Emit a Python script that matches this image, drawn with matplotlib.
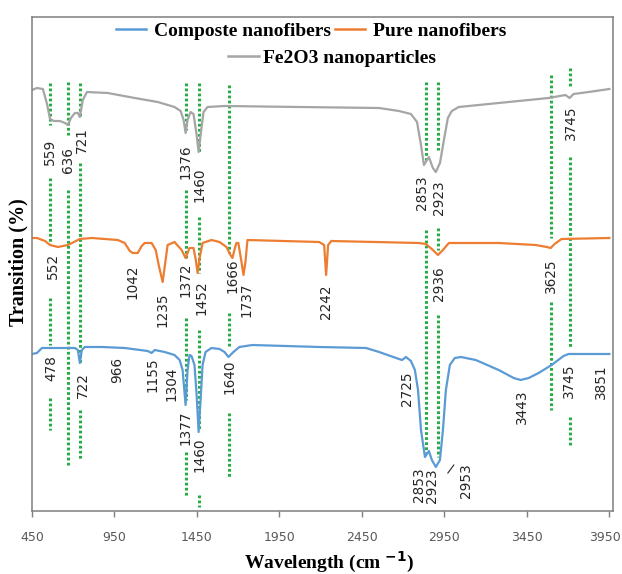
import matplotlib
matplotlib.use("Agg")
import matplotlib.pyplot as plt
from matplotlib.lines import Line2D
from matplotlib.transforms import ScaledTranslation

# ---------------- data (wavenumber, relative transmission, arbitrary offset units) ----------------
fe_wn = [450, 480, 516, 541, 559, 583, 619, 650, 668, 686, 710, 728, 740, 758, 783, 909, 1073, 1212,
         1314, 1351, 1369, 1381, 1393, 1411, 1429, 1448, 1460, 1472, 1490, 1514, 1617, 2070, 2554,
         2675, 2747, 2784, 2808, 2826, 2856, 2880, 2898, 2923, 2947, 2971, 2995, 3037, 3279, 3582,
         3684, 3709, 3733, 3824, 3950]
fe_t = [421, 423, 422, 407, 392, 390, 390, 388, 386, 393, 398, 398, 394, 411, 419, 418, 413, 409,
        404, 400, 391, 378, 391, 399, 397, 376, 359, 376, 399, 404, 405, 404, 403,
        400, 397, 389, 366, 346, 354, 343, 339, 348, 371, 393, 400, 404, 408, 413,
        416, 413, 417, 419, 422]

pure_wn = [450, 480, 529, 559, 607, 668, 740, 813, 970, 1012, 1043, 1061, 1091, 1115, 1133, 1175,
           1200, 1218, 1242, 1260, 1272, 1314, 1357, 1381, 1405, 1429, 1441, 1454, 1466, 1484, 1538,
           1587, 1629, 1653, 1665, 1677, 1689, 1701, 1720, 1732, 1744, 1756, 2191, 2221, 2233, 2245,
           2264, 2796, 2838, 2880, 2911, 2941, 2977, 3279, 3503, 3570, 3594, 3618, 3660, 3950]
pure_t = [273, 273, 270, 266, 264, 266, 272, 273, 271, 268, 260, 258, 258, 265, 268, 268,
          261, 246, 229, 251, 266, 269, 261, 253, 263, 263, 253, 238, 253, 268, 271,
          269, 264, 256, 253, 261, 268, 268, 249, 236, 249, 271, 269, 266, 236, 266,
          270, 268, 267, 261, 256, 261, 268, 268, 266, 264, 263, 267, 272, 273]

comp_wn = [450, 480, 510, 607, 710, 728, 740, 752, 770, 873, 1012, 1151, 1175, 1194, 1254, 1314,
           1345, 1363, 1381, 1393, 1405, 1417, 1435, 1448, 1460, 1472, 1484, 1502, 1538, 1587, 1617,
           1641, 1671, 1707, 1786, 2191, 2475, 2554, 2657, 2693, 2717, 2747, 2771, 2790, 2808, 2832,
           2856, 2874, 2898, 2923, 2941, 2959, 2983, 3013, 3050, 3140, 3279, 3370, 3412, 3461, 3521,
           3600, 3672, 3703, 3745, 3950]
comp_t = [157, 158, 163, 163, 163, 161, 148, 161, 164, 164, 163, 160, 158, 161, 159, 156,
          151, 141, 106, 141, 156, 155, 146, 116, 79, 111, 146, 159, 163, 162, 159,
          154, 159, 164, 166, 164, 163, 159, 153, 151, 154, 150, 141, 121, 81, 54,
          60, 51, 44, 51, 81, 121, 146, 153, 154, 151, 141, 133, 131, 133, 138,
          146, 155, 157, 157, 157]

# peak labels: (text, x position in cm-1, y position)
fe_labels = [("559", 559, 359), ("636", 668, 351), ("721", 752, 371), ("1376", 1381, 349),
             ("1460", 1466, 326), ("2853", 2814, 318), ("2923", 2917, 313), ("3745", 3715, 388)]
pure_labels = [("552", 577, 245), ("1042", 1061, 229), ("1235", 1242, 201), ("1372", 1381, 231),
               ("1452", 1478, 213), ("1666", 1665, 235), ("1737", 1750, 211), ("2242", 2233, 209),
               ("2936", 2917, 227), ("3625", 3594, 235)]
comp_labels = [("478", 565, 143), ("722", 758, 126), ("966", 964, 141), ("1155", 1182, 136),
               ("1304", 1296, 127), ("1377", 1381, 83), ("1460", 1466, 56), ("1640", 1647, 134),
               ("2725", 2723, 122), ("2853", 2798, 26), ("2923", 2876, 25), ("2953", 3080, 30),
               ("3443", 3418, 104), ("3745", 3703, 130), ("3851", 3902, 129)]

# green dotted guide segments: (x cm-1, y from, y to)
guides = [(559, 428, 386), (559, 333, 268), (559, 213, 166), (559, 113, 81),
          (668, 429, 376), (668, 321, 44),
          (740, 428, 394), (740, 348, 148), (740, 101, 51),
          (1381, 428, 381), (1381, 321, 253), (1381, 193, 111), (1381, 59, 14),
          (1460, 428, 359), (1460, 294, 238), (1460, 181, 81), (1460, 16, 4),
          (1647, 426, 258), (1647, 198, 164), (1647, 98, 34),
          (2838, 429, 351), (2838, 281, 58),
          (2911, 429, 361), (2911, 283, 261), (2911, 196, 54),
          (3594, 436, 273), (3594, 209, 101),
          (3709, 443, 424), (3709, 354, 164), (3709, 94, 64)]

xticks = [450, 950, 1450, 1950, 2450, 2950, 3450, 3950]

# ---------------- figure ----------------
fig = plt.figure(figsize=(6.22, 5.74), dpi=100)
ax = fig.add_axes([32/622, 63/574, 581/622, 494/574])

blue, orange, gray = "#5b9bd5", "#ed7d31", "#a5a5a5"
green = "#27ad45"

for x, y0, y1 in guides:
    ax.plot([x, x], [y0, y1], color=green, lw=2.2, linestyle=(0, (0.9, 0.75)),
            dash_capstyle="butt", zorder=1)

ax.plot(fe_wn, fe_t, color=gray, lw=1.6, zorder=2)
ax.plot(pure_wn, pure_t, color=orange, lw=1.6, zorder=2)
ax.plot(comp_wn, comp_t, color=blue, lw=1.6, zorder=2)

lab_kw = dict(rotation=90, ha="center", va="center", fontsize=9.8, color="#262626",
              family="DejaVu Sans", clip_on=True, zorder=3)
for group in (fe_labels, pure_labels, comp_labels):
    for txt, x, y in group:
        ax.text(x, y, txt, **lab_kw)
ax.plot([2971, 3007], [38, 46], color="#262626", lw=0.8)

ax.set_xlim(450, 3972)
ax.set_ylim(0, 494)
ax.set_yticks([])
ax.set_xticks(xticks)
ax.set_xticklabels([str(v) for v in xticks], fontsize=9, color="#595959")
ax.tick_params(axis="x", direction="out", length=4.5, width=1, color="#7f7f7f", pad=10)
last = ax.get_xticklabels()[-1]
last.set_transform(last.get_transform() + ScaledTranslation(-4/100, 0, fig.dpi_scale_trans))
for s in ax.spines.values():
    s.set_color("#7f7f7f")
    s.set_linewidth(1.1)

serif = dict(family="Liberation Serif", weight="bold")
fig.text(329/622, 1 - 562/574, r"Wavelength (cm $^{\mathbf{-1}}$)", ha="center", va="center",
         fontsize=14, **serif)
fig.text(18/622, 1 - 262/574, "Transition (%)", rotation=90, ha="center", va="center",
         fontsize=14.5, **serif)

h1 = [Line2D([], [], color=blue, lw=1.8), Line2D([], [], color=orange, lw=1.8)]
leg1 = fig.legend(h1, ["Composte nanofibers", "Pure nanofibers"], loc="center",
                  bbox_to_anchor=(311/622, 1 - 31/574), ncol=2, frameon=False,
                  prop=dict(family="Liberation Serif", weight="bold", size=14),
                  handlelength=1.55, handletextpad=0.4, columnspacing=0.2)
h2 = [Line2D([], [], color=gray, lw=1.8)]
leg2 = fig.legend(h2, ["Fe2O3 nanoparticles"], loc="center",
                  bbox_to_anchor=(332/622, 1 - 58/574), frameon=False,
                  prop=dict(family="Liberation Serif", weight="bold", size=14),
                  handlelength=1.55, handletextpad=0.2)

fig.savefig("out.png", dpi=100)
